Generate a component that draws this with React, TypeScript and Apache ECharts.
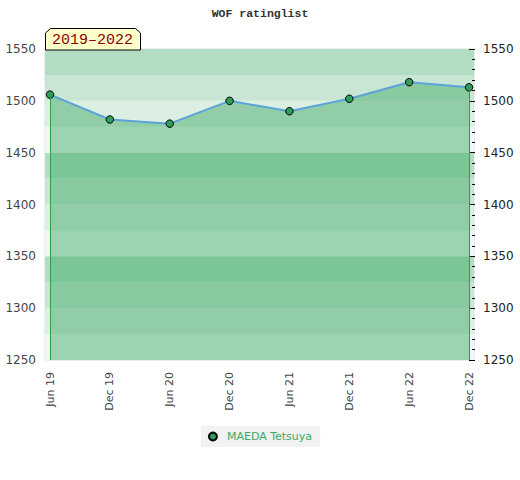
import React, { useEffect, useRef } from "react";
import * as echarts from "echarts";

const categories = ["Jun 19", "Dec 19", "Jun 20", "Dec 20", "Jun 21", "Dec 21", "Jun 22", "Dec 22"];
const ratings = [1506, 1482, 1478, 1500, 1490, 1502, 1518, 1513];
const seriesName = "MAEDA Tetsuya";
const yMin = 1250;
const yMax = 1550;
const periodLabel = "2019\u20132022";
const titleText = "WOF ratinglist";
const bandColors = ["#f0f8f3", "#dcefe3", "#c8e6d3", "#b3ddc3"];

export default function App() {
  const ref = useRef<HTMLDivElement>(null);
  useEffect(() => {
    if (!ref.current) return;
    const chart = echarts.init(ref.current, null, { renderer: "svg" });
    const last = categories.length - 1;
    const plain = (v: number) => String(v);
    const option: any = {
      animation: false,
      backgroundColor: "#ffffff",
      title: {
        text: titleText,
        left: "center",
        top: 2,
        textStyle: {
          fontFamily: "Liberation Mono",
          fontWeight: "bold",
          fontSize: 11.5,
          color: "#333",
        },
      },
      grid: [
        {
          left: 45,
          top: 49,
          width: 429,
          height: 311,
          show: true,
          borderColor: "#dddddd",
          borderWidth: 1,
          backgroundColor: "transparent",
        },
        { left: 50, top: 49, width: 419, height: 311 },
      ],
      xAxis: [
        { type: "value", gridIndex: 0, min: 0, max: 1, show: false },
        {
          type: "category",
          gridIndex: 1,
          data: categories,
          boundaryGap: false,
          axisLine: { show: false },
          axisTick: { show: false },
          splitLine: { show: false },
          axisLabel: {
            rotate: 90,
            margin: 12,
            fontSize: 11,
            fontFamily: "DejaVu Sans",
            color: "#444",
          },
        },
      ],
      yAxis: [
        {
          type: "value",
          gridIndex: 0,
          min: yMin,
          max: yMax,
          interval: 25,
          axisLabel: { show: false },
          axisLine: { show: false },
          axisTick: { show: false },
          splitLine: { show: false },
          splitArea: { show: true, areaStyle: { color: bandColors } },
        },
        {
          type: "value",
          gridIndex: 1,
          min: yMin,
          max: yMax,
          interval: 50,
          position: "left",
          axisLine: { show: false },
          axisTick: { show: false },
          splitLine: { show: false },
          axisLabel: {
            formatter: plain,
            margin: 14,
            fontSize: 12,
            fontFamily: "DejaVu Sans",
            color: "#444",
          },
        },
        {
          type: "value",
          gridIndex: 1,
          min: yMin,
          max: yMax,
          interval: 50,
          position: "right",
          offset: 6,
          axisLine: { show: false },
          axisTick: { show: true, inside: true, length: 6, lineStyle: { color: "#000", width: 1 } },
          minorTick: { show: true, splitNumber: 5, length: 3, lineStyle: { color: "#000", width: 1 } },
          splitLine: { show: false },
          axisLabel: {
            formatter: plain,
            margin: 8,
            fontSize: 12,
            fontFamily: "DejaVu Sans",
            color: "#222",
          },
        },
      ],
      legend: {
        data: [seriesName],
        bottom: 33,
        left: "center",
        backgroundColor: "#f2f2f2",
        padding: [5, 8, 5, 7],
        icon: "circle",
        itemWidth: 8,
        itemHeight: 8,
        itemGap: 10,
        textStyle: {
          color: "#3aa862",
          fontSize: 11,
          fontFamily: "DejaVu Sans",
          padding: [0, 0, 0, 5],
        },
      },
      series: [
        {
          name: seriesName,
          type: "line",
          xAxisIndex: 1,
          yAxisIndex: 1,
          data: ratings,
          symbol: "circle",
          symbolSize: 7.5,
          itemStyle: { color: "#2e9e5a", borderColor: "#000", borderWidth: 1 },
          lineStyle: { color: "#5ba3d8", width: 2 },
          areaStyle: { color: "#3da964", opacity: 0.47, origin: "start" },
          z: 3,
          markLine: {
            silent: true,
            symbol: "none",
            label: { show: false },
            lineStyle: { color: "#2e9e4f", width: 1, type: "solid" },
            data: [
              [{ coord: [categories[0], ratings[0]] }, { coord: [categories[0], yMin] }],
              [{ coord: [categories[last], ratings[last]] }, { coord: [categories[last], yMin] }],
            ],
          },
        },
      ],
      graphic: [
        {
          type: "polygon",
          z: 10,
          shape: {
            points: [
              [45.5, 50],
              [45.5, 33],
              [50.5, 28.5],
              [135.5, 28.5],
              [140.5, 33],
              [140.5, 50],
            ],
          },
          style: { fill: "#ffffcc", stroke: "#000", lineWidth: 1 },
        },
        {
          type: "text",
          z: 11,
          x: 52,
          y: 40,
          style: {
            text: periodLabel,
            fill: "#8b0000",
            font: "15px 'Liberation Mono'",
            verticalAlign: "middle",
          },
        },
      ],
    };
    chart.setOption(option);
    return () => chart.dispose();
  }, []);
  return (
    <div
      ref={ref}
      style={{ position: "fixed", left: 0, top: 0, width: 520, height: 480 }}
    />
  );
}
